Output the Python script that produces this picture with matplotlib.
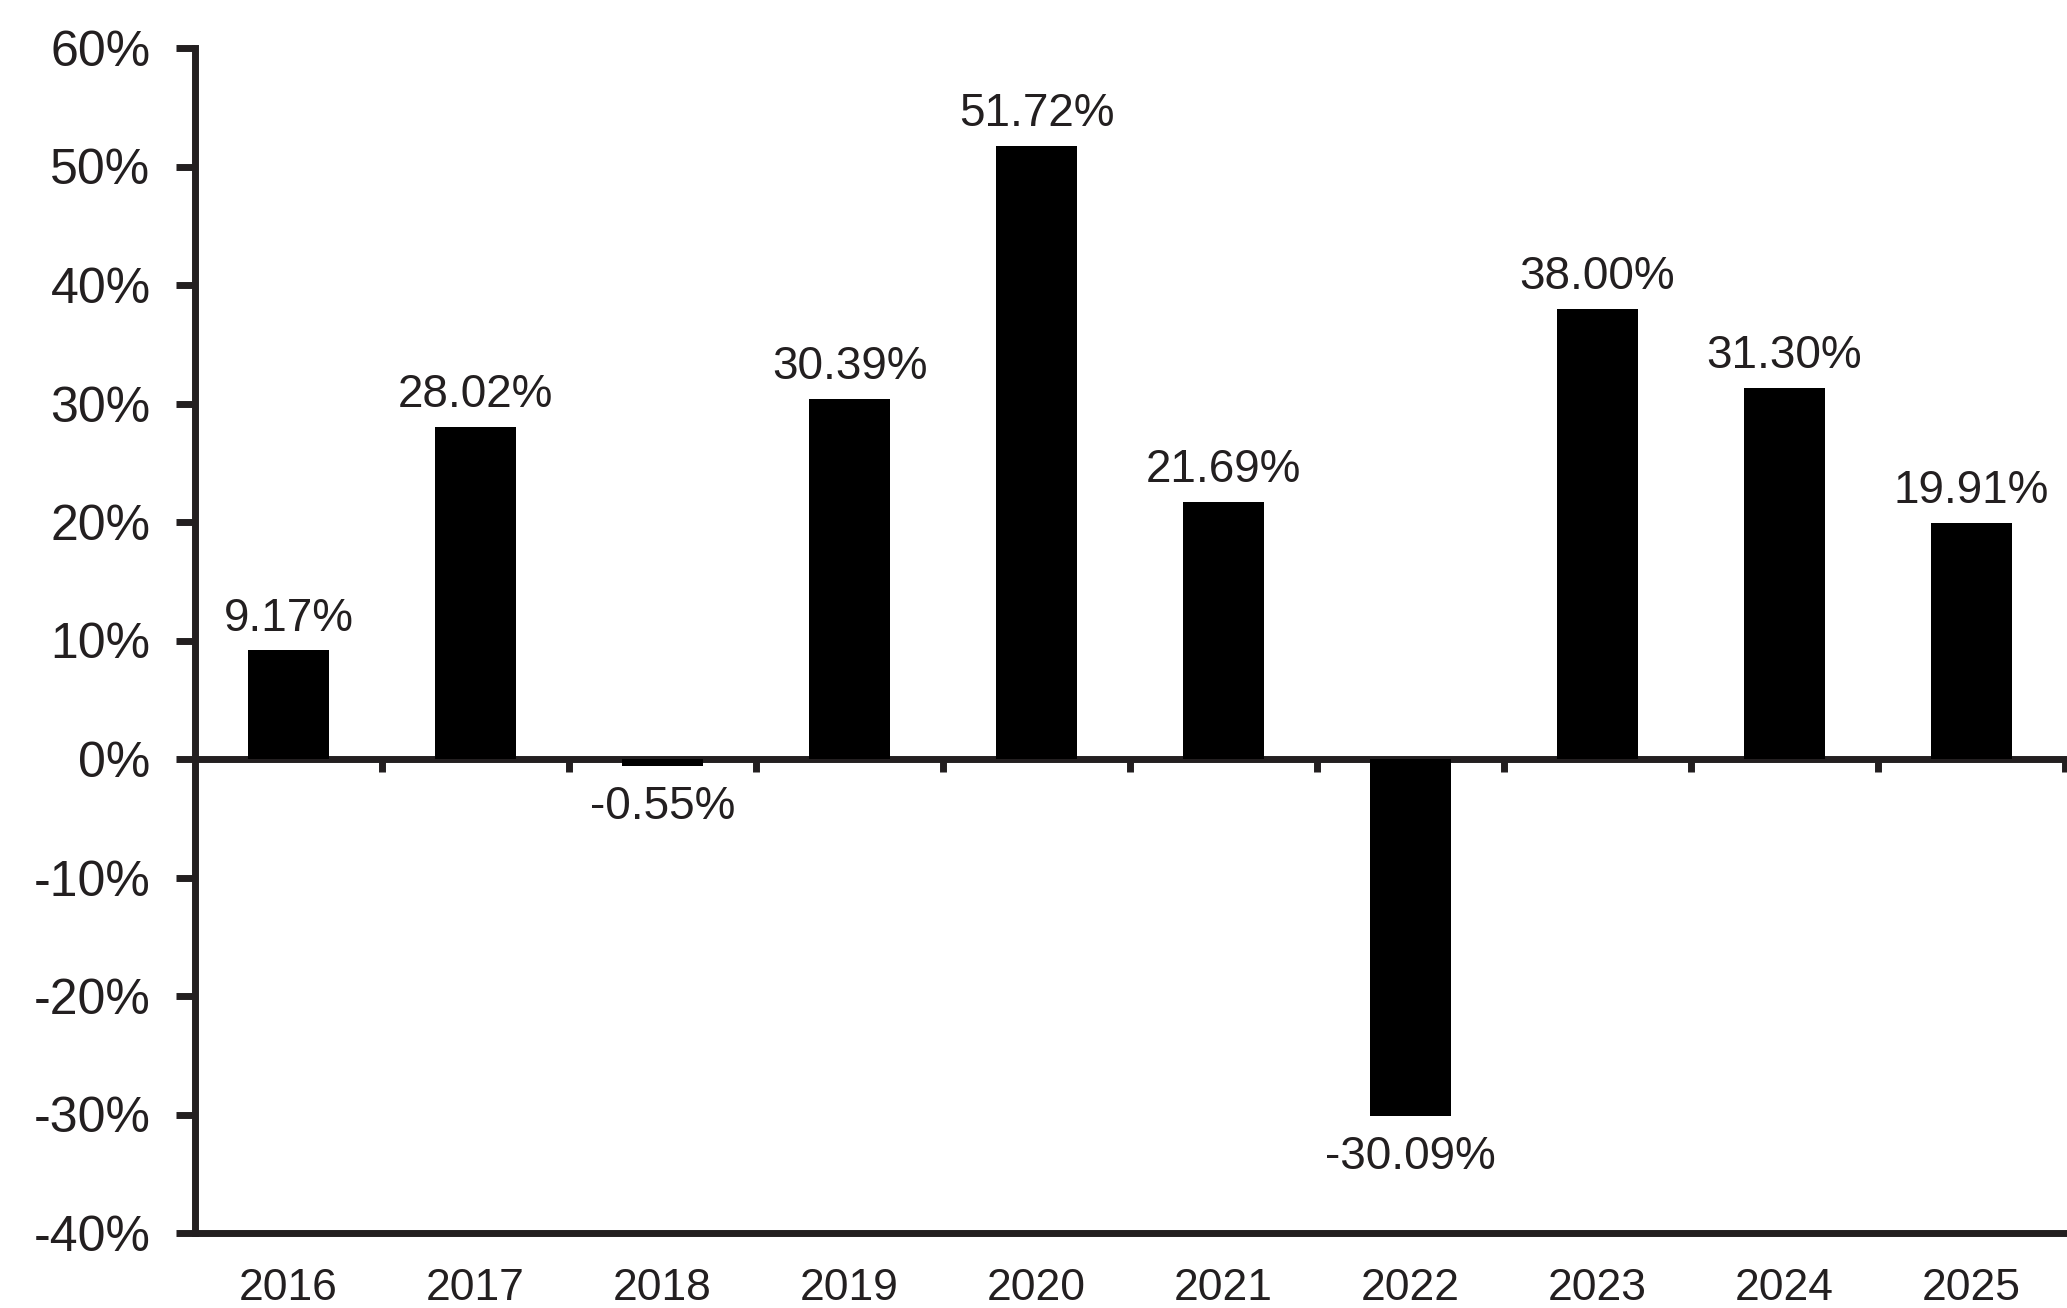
import matplotlib
matplotlib.use("Agg")
import matplotlib.pyplot as plt
import numpy as np

years = ["2016", "2017", "2018", "2019", "2020", "2021", "2022", "2023", "2024", "2025"]
returns = [9.17, 28.02, -0.55, 30.39, 51.72, 21.69, -30.09, 38.00, 31.30, 19.91]
yticks = [-40, -30, -20, -10, 0, 10, 20, 30, 40, 50, 60]

plt.rcParams['font.family'] = ['Liberation Sans', 'DejaVu Sans']
txt = '#231f20'

fig = plt.figure(figsize=(20.67, 13.08), dpi=100)
ax = fig.add_axes([195/2067, 1 - 1233/1308, (2065-195)/2067, (1233-48)/1308])

x = np.arange(len(years))
bars = ax.bar(x, returns, width=0.43, color='black', zorder=3)
ax.set_xlim(-0.5, len(years) - 0.5)
ax.set_ylim(-40, 60)

ax.set_yticks(yticks)
ax.set_yticklabels([f"{v}%" for v in yticks])
ax.tick_params(axis='y', direction='out', length=14, width=5, color=txt,
               labelsize=36, labelcolor=txt, pad=18)
ax.set_xticks(x)
ax.set_xticklabels(years)
ax.tick_params(axis='x', length=0, labelsize=32, labelcolor=txt, pad=25)

for s in ['top', 'right']:
    ax.spines[s].set_visible(False)
for s in ['left', 'bottom']:
    ax.spines[s].set_linewidth(5)
    ax.spines[s].set_color(txt)

# zero line with category boundary ticks
sec = ax.secondary_xaxis(0.4)
sec.set_xticks(np.arange(0.5, len(years), 1.0))
sec.set_xticklabels([])
sec.tick_params(axis='x', direction='out', length=9, width=5, color=txt)
sec.spines['bottom'].set_linewidth(5)
sec.spines['bottom'].set_color(txt)

pos_labels = [f"{v:.2f}%" if v >= 0 else "" for v in returns]
neg_labels = [f"{v:.2f}%" if v < 0 else "" for v in returns]
ax.bar_label(bars, labels=pos_labels, padding=7, fontsize=33, color=txt)
ax.bar_label(bars, labels=neg_labels, padding=14, fontsize=33, color=txt)

fig.savefig("out.png", dpi=100)
